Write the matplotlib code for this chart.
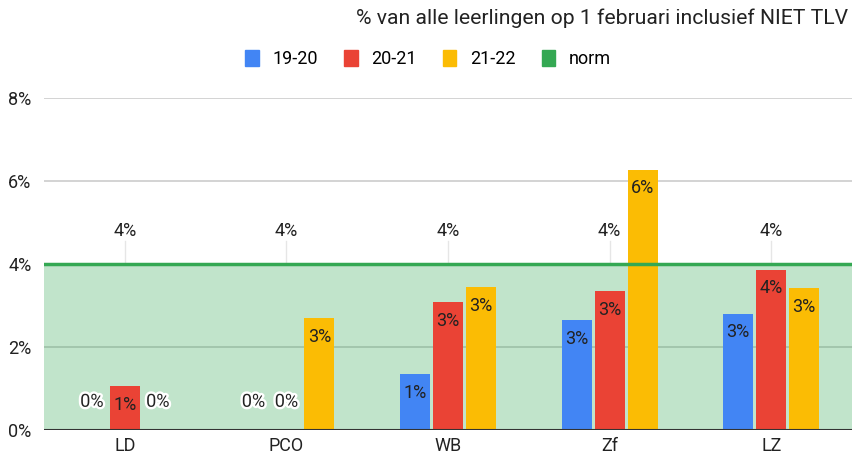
import matplotlib
matplotlib.use("Agg")
import matplotlib.pyplot as plt
import matplotlib.patheffects as pe
from matplotlib.patches import Patch
import numpy as np

plt.rcParams['font.family'] = ['Roboto', 'DejaVu Sans']

categories = ["LD", "PCO", "WB", "Zf", "LZ"]
series_names = ["19-20", "20-21", "21-22"]
v_1920 = [0.0, 0.0, 1.35, 2.65, 2.80]
v_2021 = [1.06, 0.0, 3.08, 3.35, 3.86]
v_2122 = [0.0, 2.70, 3.45, 6.27, 3.42]
norm = [4.0, 4.0, 4.0, 4.0, 4.0]
yticks = [0, 2, 4, 6, 8]
title = "% van alle leerlingen op 1 februari inclusief NIET TLV"

colors = ["#4285f4", "#ea4335", "#fbbc04"]
green = "#34a853"
txt = "#222222"
FS = 13

fig = plt.figure(figsize=(8.54, 4.59), dpi=100)
ax = fig.add_axes([44/854, 1-430/459, 808/854, 332/459])

x = np.arange(len(categories))
ax.set_xlim(-0.5, len(categories) - 0.5)
ax.set_ylim(0, 8)

for t in yticks[1:]:
    ax.axhline(t, color="#cccccc", lw=1.2, zorder=0)

ax.fill_between([-0.5, len(categories) - 0.5], 0, [norm[0], norm[-1]],
                color=green, alpha=0.3, lw=0, zorder=1)
ax.plot([-0.5, len(categories) - 0.5], [norm[0], norm[-1]], color=green, lw=2.5, zorder=4)

for xi, n in zip(x, norm):
    ax.plot([xi, xi], [n, n + 0.55], color="#e6e6e6", lw=1, zorder=2)
    ax.text(xi, n + 0.8, f"{n:.0f}%", ha="center", va="center", fontsize=FS, color=txt, zorder=5)

step = 0.204
width = 0.185
halo = [pe.withStroke(linewidth=3.5, foreground="white")]
for i, (vals, c) in enumerate(zip([v_1920, v_2021, v_2122], colors)):
    xs = x + (i - 1) * step
    ax.bar(xs, vals, width=width, color=c, zorder=3)
    for xv, v in zip(xs, vals):
        lbl = f"{v:.0f}%"
        if v <= 0:
            ax.text(xv, 0.68, lbl, ha="center", va="center", fontsize=FS,
                    color=txt, zorder=6, path_effects=halo)
        else:
            ax.text(xv, v - 0.45, lbl, ha="center", va="center", fontsize=FS,
                    color=txt, zorder=6)

ax.axhline(0, color="#333333", lw=1.5, zorder=5)

for s in ax.spines.values():
    s.set_visible(False)
ax.set_yticks(yticks)
ax.set_yticklabels([f"{t}%" for t in yticks], fontsize=FS, color=txt)
ax.set_xticks(x)
ax.set_xticklabels(categories, fontsize=FS, color=txt)
ax.tick_params(length=0, pad=5)
ax.tick_params(axis="y", pad=9)

fig.text(848/854, 1-18/459, title, ha="right", va="center", fontsize=15.2, color=txt)

handles = [Patch(facecolor=c, edgecolor=c) for c in colors + [green]]
fig.legend(handles, series_names + ["norm"], loc="center", bbox_to_anchor=(428/854, 1-59/459),
           ncol=4, frameon=False, fontsize=FS, handlelength=0.75, handleheight=1.0,
           columnspacing=1.45, handletextpad=0.75)

fig.savefig("out.png", dpi=100)
